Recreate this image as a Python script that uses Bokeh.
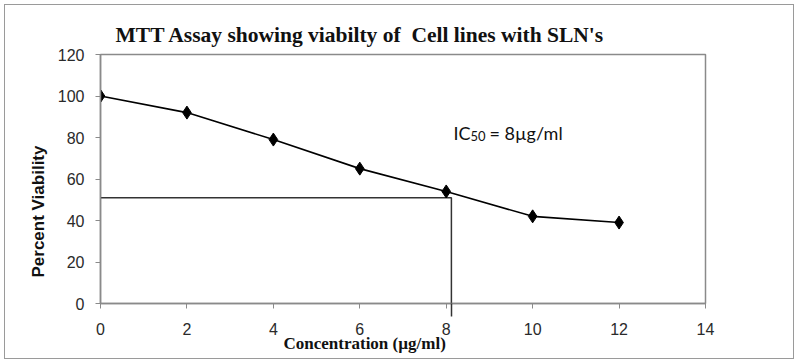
from bokeh.plotting import figure
from bokeh.models import Range1d, FixedTicker, Title
from bokeh.core.properties import value
from bokeh.embed import file_html
from bokeh.resources import INLINE

# Data
concentration = [0, 2, 4, 6, 8, 10, 12]
viability = [100, 92, 79, 65, 54, 42, 39]
x_ticks = [0, 2, 4, 6, 8, 10, 12, 14]
y_ticks = [0, 20, 40, 60, 80, 100, 120]
ic50_x = 8.12
ic50_y = 51
title_text = "MTT Assay showing viabilty of \u00a0Cell lines with SLN's"
x_label_text = "Concentration (\u00b5g/ml)"
y_label_text = "Percent Viability"

AXC = "#8a8a8a"

p = figure(width=790, height=355, output_backend="svg", toolbar_location=None,
           x_range=Range1d(0, 14), y_range=Range1d(0, 120),
           min_border_left=95, min_border_right=90, min_border_top=49, min_border_bottom=57)
p.styles = {"border": "1px solid #9a9a9a", "margin": "4px"}
p.xgrid.visible = False
p.ygrid.visible = False
p.outline_line_color = AXC
p.outline_line_width = 1.5

for ax in (p.xaxis, p.yaxis):
    ax.axis_line_color = AXC
    ax.axis_line_width = 1.5
    ax.major_tick_line_color = AXC
    ax.major_tick_in = 0
    ax.major_tick_out = 5
    ax.major_label_text_font = "Liberation Sans"
    ax.major_label_text_font_size = "16px"
    ax.major_label_text_color = "#2a2a2a"
p.yaxis.ticker = FixedTicker(ticks=y_ticks)
p.yaxis.minor_tick_line_color = None
# the IC50 drop line continues below the axis: drawn as a minor tick
p.xaxis.ticker = FixedTicker(ticks=x_ticks, minor_ticks=[ic50_x])
p.xaxis.minor_tick_in = 0
p.xaxis.minor_tick_out = 13
p.xaxis.minor_tick_line_color = "#333333"
p.xaxis.minor_tick_line_width = 1.5
p.xaxis.major_label_standoff = 6
p.yaxis.major_label_standoff = 11

# Title
p.title.text = title_text
p.title.align = "left"
p.title.offset = 15
p.title.standoff = 16
p.title.text_font = "Liberation Serif"
p.title.text_font_style = "bold"
p.title.text_font_size = "21.5px"
p.title.text_color = "#111111"

# Axis titles
p.add_layout(Title(text=x_label_text, align="left", offset=183, standoff=-12,
                   text_font="Liberation Serif", text_font_style="bold",
                   text_font_size="17px", text_color="#111111"), "below")
p.add_layout(Title(text=y_label_text, align="left", offset=26, standoff=14,
                   text_font="Liberation Sans", text_font_style="bold",
                   text_font_size="17px", text_color="#111111"), "left")

# IC50 guide lines
p.line([0, ic50_x, ic50_x], [ic50_y, ic50_y, 0], line_color="#333333", line_width=1.5)

# Data series
p.line(concentration, viability, line_color="black", line_width=1.6)
p.scatter(concentration, viability, marker="diamond", size=13, color="black")

# IC50 annotation
p.text(x=[8.17], y=[82.4], text=["IC"], text_font=value("Lato"),
       text_font_size="18px", text_baseline="alphabetic", text_color="#111111")
p.text(x=[8.56], y=[80.5], text=["50"], text_font=value("Lato"),
       text_font_size="13px", text_baseline="alphabetic", text_color="#111111")
p.text(x=[9.0], y=[82.4], text=["= 8\u00b5g/ml"], text_font=value("Lato"),
       text_font_size="18px", text_baseline="alphabetic", text_color="#111111")

open("out.html", "w").write(file_html(p, INLINE))
